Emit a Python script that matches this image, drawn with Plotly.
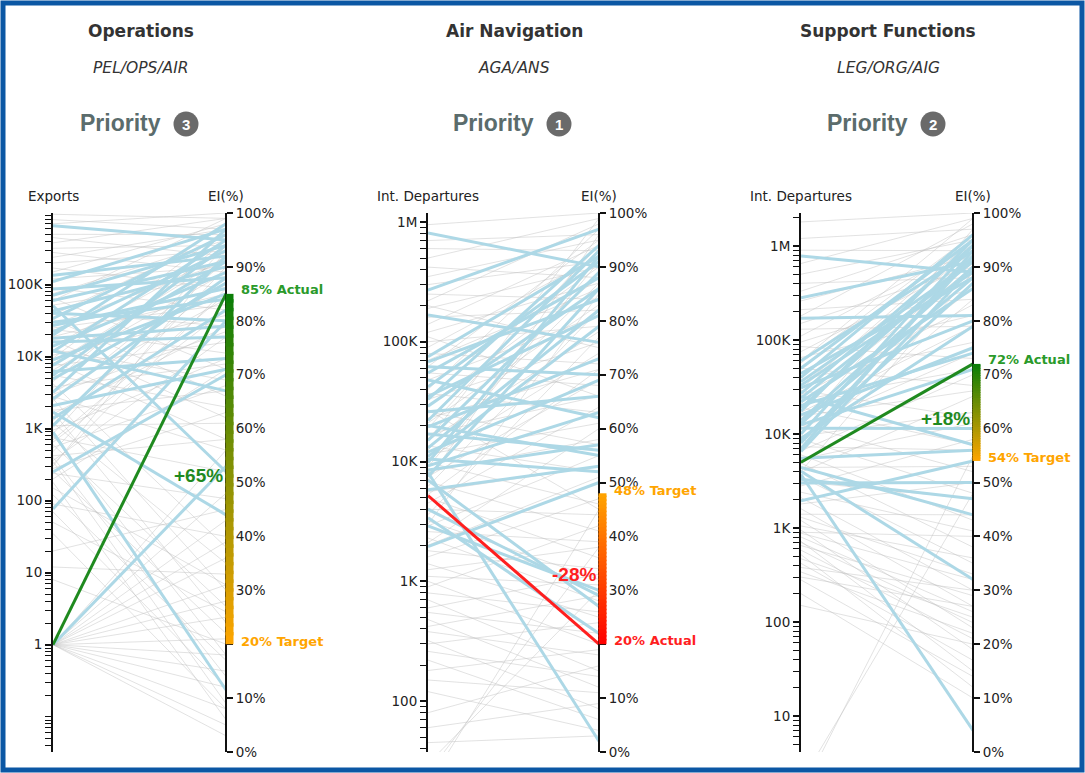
import math
import plotly.graph_objects as go

W, H = 1085, 773

# ---------------- data ----------------
group_names = ["Operations", "Air Navigation", "Support Functions"]
group_codes = ["PEL/OPS/AIR", "AGA/ANS", "LEG/ORG/AIG"]
priorities = [3, 1, 2]
indicator_names = ["Exports", "Int. Departures", "Int. Departures"]
ei_targets = [20, 48, 54]
ei_actuals = [85, 20, 72]
highlight_indicator = [1, 5200, 5000]
pct_ticks = list(range(0, 101, 10))

# (indicator value, EI %) per state
ops_blue = [(660000, 95), (135000, 92), (110000, 97), (87000, 88), (71000, 94), (51000, 52),
            (43000, 90), (34000, 96), (27000, 86), (22000, 93), (18000, 79), (14000, 89),
            (11800, 95), (7600, 91), (6200, 73), (4900, 87), (3200, 97), (2100, 71), (1700, 44),
            (1100, 92), (900, 11.5), (250, 70), (77, 80), (30000, 84), (20000, 98), (16000, 77),
            (9000, 85), (5500, 94), (2600, 88), (1400, 82), (40000, 80), (60000, 91), (12000, 67),
            (1, 53)]
ops_grey = [(950000, 99), (800000, 97), (700000, 100), (500000, 96), (450000, 92), (380000, 99),
            (320000, 94), (280000, 89), (240000, 97), (200000, 93), (170000, 86), (150000, 98),
            (120000, 90), (90000, 82), (75000, 95), (65000, 71), (52000, 88), (42000, 79),
            (38000, 96), (33000, 66), (28000, 91), (24000, 74), (19000, 85), (17000, 62),
            (14000, 93), (12500, 69), (10500, 81), (9500, 97), (8500, 58), (7500, 76), (6500, 89),
            (5500, 64), (4500, 95), (3800, 72), (3200, 84), (2800, 56), (2400, 91), (1800, 67),
            (1600, 79), (1300, 88), (1100, 61), (950, 73), (850, 94), (750, 52), (650, 82),
            (550, 68), (480, 90), (420, 58), (360, 77), (320, 86), (280, 63), (240, 47), (200, 71),
            (4200, 38), (2600, 30), (1700, 24), (1200, 35), (800, 18), (600, 27), (400, 14),
            (350, 9), (260, 22), (180, 6), (150, 31), (120, 17), (90, 40), (70, 12), (50, 26),
            (35, 8), (20, 45), (12, 33), (8, 20), (1, 3), (1, 5), (1, 8), (1, 12), (1, 15), (1, 18),
            (1, 21), (1, 25), (1, 28), (1, 31), (1, 36), (1, 39), (1, 43), (1, 48), (1, 56),
            (60000, 99), (25000, 83), (8000, 92), (3000, 78), (700, 85), (300, 93)]

ans_blue = [(810000, 90), (270000, 97), (167000, 76), (75000, 92), (68000, 84), (62000, 70),
            (55000, 88), (48000, 62), (42000, 91), (35000, 81), (29000, 86), (26000, 66),
            (22000, 93), (19500, 73), (17000, 56), (15000, 89), (13000, 82), (12000, 69),
            (10500, 52), (9200, 63), (8100, 2), (9800, 92), (8500, 57), (7500, 86), (7000, 27),
            (4000, 29), (3400, 22), (2900, 30), (1950, 50), (5800, 53), (11000, 79), (20000, 55),
            (33000, 94)]
ans_grey = [(950000, 100), (700000, 96), (600000, 93), (500000, 99), (420000, 88), (350000, 95),
            (300000, 91), (250000, 84), (220000, 98), (190000, 90), (160000, 82), (140000, 94),
            (120000, 87), (100000, 79), (90000, 92), (80000, 72), (70000, 86), (62000, 95),
            (55000, 68), (48000, 81), (42000, 90), (37000, 63), (33000, 76), (29000, 88),
            (26000, 57), (23000, 71), (21000, 83), (19000, 94), (17000, 66), (15000, 78),
            (13500, 52), (12500, 87), (11500, 61), (10500, 74), (9800, 46), (9000, 91), (8200, 58),
            (7500, 69), (6800, 41), (6200, 82), (5600, 53), (5000, 36), (4500, 64), (4000, 44),
            (3600, 77), (3200, 32), (2900, 55), (2600, 39), (2300, 28), (2100, 60), (1800, 34),
            (1600, 47), (1400, 25), (1250, 38), (1100, 31), (1000, 20), (900, 42), (800, 26),
            (700, 15), (600, 33), (550, 22), (480, 12), (420, 29), (380, 18), (320, 8), (300, 24),
            (260, 14), (220, 6), (180, 19), (150, 11), (120, 4), (80, 16), (60, 9), (30, 30),
            (25, 38), (20, 45), (45, 3), (200000, 75), (40000, 97), (15000, 99), (3000, 85),
            (7000, 96), (110000, 66), (27000, 45), (5300, 71), (2000, 51)]

sup_blue = [(780000, 89), (280000, 91), (170000, 81), (60000, 93), (50000, 95), (44000, 88),
            (36000, 91), (31000, 80), (27000, 94), (22000, 86), (19000, 92), (16000, 75),
            (14000, 90), (11500, 60), (10000, 94), (8500, 87), (7000, 93), (5500, 56), (4400, 44),
            (3700, 4), (3000, 50), (1940, 54), (4000, 32), (3300, 47), (12500, 71), (25000, 57),
            (9000, 79), (40000, 96), (33000, 89), (24000, 91), (17500, 95), (13000, 88),
            (8000, 92), (6500, 90), (20000, 74)]
sup_grey = [(1800000, 100), (1200000, 97), (900000, 93), (650000, 99), (500000, 95), (400000, 88),
            (330000, 96), (260000, 92), (210000, 84), (180000, 98), (150000, 90), (130000, 79),
            (110000, 94), (95000, 86), (85000, 73), (75000, 91), (65000, 81), (57000, 96),
            (50000, 68), (44000, 88), (38000, 76), (33000, 93), (29000, 62), (26000, 83),
            (23000, 71), (21000, 90), (19000, 57), (17000, 79), (15500, 67), (14000, 86),
            (12500, 52), (11500, 74), (10500, 92), (9500, 63), (8800, 48), (8000, 84), (7300, 56),
            (6600, 70), (6000, 43), (5400, 61), (4900, 38), (4400, 53), (3900, 66), (3500, 35),
            (3100, 47), (2800, 58), (2400, 41), (2100, 30), (1800, 50), (1600, 27), (1400, 44),
            (1200, 23), (1050, 36), (950, 19), (880, 32), (800, 26), (720, 15), (650, 29),
            (580, 21), (520, 12), (470, 25), (420, 17), (380, 30), (340, 22), (300, 27), (280, 14),
            (2, 48), (1.5, 55), (200, 10), (150, 20), (60000, 99), (30000, 95), (12000, 97),
            (4000, 89), (900, 40), (1300, 33), (700, 24)]

panel_blue = [ops_blue, ans_blue, sup_blue]
panel_grey = [ops_grey, ans_grey, sup_grey]

# ---------------- layout geometry / style ----------------
AX_FONT = "DejaVu Sans, Verdana, sans-serif"
HEAD_FONT = "Liberation Sans, Arial, sans-serif"
panel_left_px = [53, 428, 801]
panel_right_px = [226, 599, 973]
panel_center_px = [141, 514, 888]
axis_top_px, axis_bottom_px = 213, 752
log_ranges = [(-1.49, 5.995), (1.575, 6.075), (0.617, 6.35)]

GREEN = "#1f8a1f"
GREEN_TXT = "#2a9a2a"
RED = "#ff1f1f"
ORANGE = "#ffa500"


def px(x):
    return x / W


def py(y):
    return 1 - y / H


def nm(prefix, n):
    return prefix if n == 1 else f"{prefix}{n}"


def fmt(v):
    if v >= 1e6:
        return f"{round(v / 1e6)}M"
    if v >= 1e3:
        return f"{round(v / 1e3)}K"
    return str(round(v))


def hex2rgb(h):
    h = h.lstrip("#")
    return tuple(int(h[k:k + 2], 16) for k in (0, 2, 4))


def mix(c1, c2, t):
    a, b = hex2rgb(c1), hex2rgb(c2)
    return "rgb({},{},{})".format(*[round(a[k] + (b[k] - a[k]) * t) for k in range(3)])


fig = go.Figure()
layout = {}
annotations = []
shapes = []

ydom = [py(axis_bottom_px), py(axis_top_px)]

for i in range(3):
    xid = i + 1
    xname = nm("x", xid)
    ylog, ypct, ynorm = 3 * i + 1, 3 * i + 2, 3 * i + 3
    lo, hi = log_ranges[i]
    L, R = panel_left_px[i], panel_right_px[i]
    unit = R - L
    extra = 14
    tgt, act = ei_targets[i], ei_actuals[i]
    layout[nm("xaxis", xid)] = dict(domain=[px(L), px(R + extra)], range=[0, (R + extra - L) / unit],
                                   visible=False, fixedrange=True, automargin=False)

    majors = [10 ** d for d in range(0, 8) if lo <= d <= hi]
    minors = []
    for d in range(math.floor(lo) - 1, math.ceil(hi) + 1):
        for k in range(1, 10):
            v = k * 10.0 ** d
            if lo <= math.log10(v) <= hi and not (k == 1 and d >= 0):
                minors.append(v)

    layout[nm("yaxis", ylog)] = dict(
        type="log", range=[lo, hi], domain=ydom, anchor=xname, side="left",
        showline=True, linecolor="#111", linewidth=2, ticks="outside", ticklen=6,
        tickwidth=1.5, tickcolor="#111", tickmode="array", tickvals=majors,
        ticktext=[fmt(v) for v in majors], tickfont=dict(size=13.5, color="#222", family=AX_FONT),
        showgrid=False, zeroline=False, fixedrange=True, automargin=False,
        minor=dict(tickmode="array", tickvals=minors, ticks="outside", ticklen=6,
                   tickwidth=1, tickcolor="#111", showgrid=False))
    # the highlighted values are written by their own labels
    pct_text = ["" if t in (tgt, act) else f"{t}%" for t in pct_ticks]
    layout[nm("yaxis", ypct)] = dict(
        range=[0, 100], overlaying=nm("y", ylog), anchor="free", position=px(R), side="right",
        showline=True, linecolor="#111", linewidth=2, ticks="outside", ticklen=6,
        tickwidth=1.5, tickcolor="#111", tickmode="array", tickvals=pct_ticks,
        ticktext=pct_text, tickfont=dict(size=13.5, color="#222", family=AX_FONT),
        showgrid=False, zeroline=False, fixedrange=True, automargin=False)
    layout[nm("yaxis", ynorm)] = dict(range=[0, 1], overlaying=nm("y", ylog), anchor=xname,
                                      visible=False, fixedrange=True, automargin=False)

    def norm_left(v):
        return (math.log10(v) - lo) / (hi - lo)

    for data, color, width in ((panel_grey[i], "rgba(190,190,190,0.45)", 1),
                               (panel_blue[i], "#add8e6", 3)):
        xs, ys = [], []
        for v, p in data:
            xs += [0, 1, None]
            ys += [norm_left(v), p / 100, None]
        fig.add_trace(go.Scatter(x=xs, y=ys, xaxis=xname, yaxis=nm("y", ynorm), mode="lines",
                                 line=dict(color=color, width=width), hoverinfo="skip",
                                 showlegend=False))

    good = act >= tgt
    hl_color = GREEN if good else RED
    fig.add_trace(go.Scatter(x=[0, 1], y=[norm_left(highlight_indicator[i]), act / 100],
                             xaxis=xname, yaxis=nm("y", ynorm), mode="lines",
                             line=dict(color=hl_color, width=3), hoverinfo="skip", showlegend=False))
    # invisible anchors on the visible axes
    fig.add_trace(go.Scatter(x=[0], y=[highlight_indicator[i]], xaxis=xname, yaxis=nm("y", ylog),
                             mode="markers", marker=dict(opacity=0), hoverinfo="skip", showlegend=False))
    fig.add_trace(go.Scatter(x=[1], y=[act], xaxis=xname, yaxis=nm("y", ypct),
                             mode="markers", marker=dict(opacity=0), hoverinfo="skip", showlegend=False))

    # gradient bar between target and actual
    low, high = min(tgt, act), max(tgt, act)
    c_low, c_high = (ORANGE, "#087d08") if good else ("#ff0000", ORANGE)
    n = 40
    for k in range(n):
        y0 = low + (high - low) * k / n
        y1 = low + (high - low) * (k + 1) / n
        col = mix(c_low, c_high, (k + 0.5) / n)
        shapes.append(dict(type="rect", xref=xname, yref=nm("y", ypct), x0=1 - 0.5 / unit,
                           x1=1 + 7.5 / unit, y0=y0, y1=min(high, y1 + (high - low) * 0.01),
                           fillcolor=col, line=dict(width=0), layer="above"))

    ya = nm("y", ypct)
    annotations.append(dict(xref=xname, yref=ya, x=1, y=act, xanchor="left", yanchor="middle",
                            xshift=13, yshift=4, showarrow=False,
                            text=f"<b>{act}% Actual</b>",
                            font=dict(size=13, color=GREEN_TXT if good else RED, family=AX_FONT)))
    annotations.append(dict(xref=xname, yref=ya, x=1, y=tgt, xanchor="left", yanchor="middle",
                            xshift=13, yshift=3, showarrow=False,
                            text=f"<b>{tgt}% Target</b>",
                            font=dict(size=13, color=ORANGE, family=AX_FONT)))
    annotations.append(dict(xref=xname, yref=ya, x=1, y=(act + tgt) / 2, xanchor="right",
                            yanchor="middle", xshift=-1, yshift=-6, showarrow=False,
                            text=f"<b>{act - tgt:+d}%</b>",
                            font=dict(size=19, color=GREEN if good else RED, family=HEAD_FONT)))

    # axis titles
    annotations.append(dict(xref="paper", yref="paper", x=px(L), y=py(196), xanchor="center",
                            yanchor="middle", showarrow=False, text=indicator_names[i],
                            font=dict(size=13.5, color="#222", family=AX_FONT)))
    annotations.append(dict(xref="paper", yref="paper", x=px(R), y=py(196), xanchor="center",
                            yanchor="middle", showarrow=False, text="EI(%)",
                            font=dict(size=13.5, color="#222", family=AX_FONT)))

    # headers
    c = panel_center_px[i]
    annotations.append(dict(xref="paper", yref="paper", x=px(c), y=py(31), xanchor="center",
                            yanchor="middle", showarrow=False, text=f"<b>{group_names[i]}</b>",
                            font=dict(size=17, color="#333", family=AX_FONT)))
    annotations.append(dict(xref="paper", yref="paper", x=px(c), y=py(68), xanchor="center",
                            yanchor="middle", showarrow=False, text=f"<i>{group_codes[i]}</i>",
                            font=dict(size=15.5, color="#333", family=AX_FONT)))
    pr = c + 22
    annotations.append(dict(xref="paper", yref="paper", x=px(pr), y=py(123), xanchor="right",
                            yanchor="middle", showarrow=False, text="<b>Priority</b>",
                            font=dict(size=23, color="#5b6c6c", family=HEAD_FONT)))
    bx, by = pr + 23, 124
    shapes.append(dict(type="circle", xref="paper", yref="paper", x0=px(bx - 12.5), x1=px(bx + 12.5),
                       y0=py(by + 12.5), y1=py(by - 12.5), fillcolor="#6a6a6a", line=dict(width=0)))
    annotations.append(dict(xref="paper", yref="paper", x=px(bx), y=py(by), xanchor="center",
                            yanchor="middle", showarrow=False, text=f"<b>{priorities[i]}</b>",
                            font=dict(size=15, color="white", family=HEAD_FONT)))

# blue frame
shapes.append(dict(type="rect", xref="paper", yref="paper", x0=px(3), x1=px(1082),
                   y0=py(770), y1=py(3), line=dict(color="#0b57a4", width=5),
                   fillcolor="rgba(0,0,0,0)", layer="above"))

fig.update_layout(**layout)
fig.update_layout(width=W, height=H, margin=dict(l=0, r=0, t=0, b=0, pad=0, autoexpand=False),
                  paper_bgcolor="white", plot_bgcolor="rgba(0,0,0,0)",
                  showlegend=False, annotations=annotations, shapes=shapes,
                  font=dict(family=AX_FONT), hovermode=False)

fig.write_html("out.html", config={"displayModeBar": False},
               post_script="document.body.style.margin='0';document.body.style.overflow='hidden';")
